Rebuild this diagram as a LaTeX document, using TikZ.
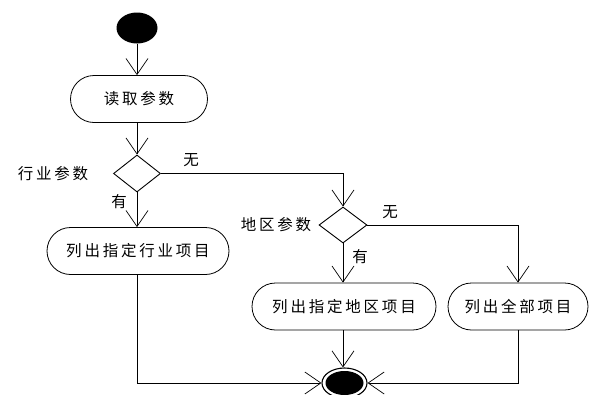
\documentclass[tikz,border=0pt]{standalone}
\usepackage{fontspec}
\newfontfamily\cjk[LetterSpace=18]{Noto Sans CJK SC}
\usetikzlibrary{arrows.meta,shapes.misc,shapes.geometric}
\begin{document}
\begin{tikzpicture}[x=1pt,y=-1pt,
  every node/.style={font=\cjk\fontsize{15.5}{18}\selectfont},
  act/.style={draw, line width=0.8pt, rounded rectangle, minimum height=47pt, inner sep=0pt},
  dec/.style={draw, line width=0.9pt, diamond, minimum width=47pt, minimum height=37pt, inner sep=0pt},
  lbl/.style={inner sep=0pt},
  arr/.style={draw, line width=0.7pt, -{Straight Barb[length=16pt,width=22pt,line width=0.7pt]}},
  ln/.style={draw, line width=0.7pt}]
\useasboundingbox (0,0) rectangle (595,394);
\fill[black] (137,28) ellipse [x radius=20.5, y radius=15.5];
\coordinate (start) at (137,43.5);
\node[act, minimum width=137pt] (read) at (139,99) {读取参数};
\node[dec] (d1) at (137,173.5) {};
\node[act, minimum width=182pt] (ind) at (138,251) {列出指定行业项目};
\node[dec, minimum width=48pt, minimum height=36pt] (d2) at (343,225) {};
\node[act, minimum width=184pt] (reg) at (344,306.5) {列出指定地区项目};
\node[act, minimum width=140pt] (all) at (518,306.5) {列出全部项目};
\node[ellipse, draw, line width=1.1pt, fill=white, minimum width=45pt, minimum height=30pt, inner sep=0pt] (end) at (344.5,383) {};
\fill[black] (344.5,383) ellipse [x radius=19, y radius=12];
\node[lbl] (l1) at (53,174) {行业参数};
\node[lbl] (l2) at (276,225) {地区参数};
\node[lbl] (y1) at (119,202) {有};
\node[lbl] (n1) at (191,160) {无};
\node[lbl] (y2) at (360,257) {有};
\node[lbl] (n2) at (390,212) {无};
\draw[arr] (start) -- (start |- read.north);
\draw[arr] (d1.north |- read.south) -- (d1.north);
\draw[arr] (d1.south) -- (d1.south |- ind.north);
\draw[arr] (d1.east) -- (d2.north |- d1.east) -- (d2.north);
\draw[arr] (d2.south) -- (d2.south |- reg.north);
\draw[arr] (d2.east) -- (all.north |- d2.east) -- (all.north);
\draw[arr] (d1.south |- ind.south) -- (d1.south |- end.west) -- (end.west);
\draw[arr] (d2.south |- reg.south) -- (d2.south |- end.north);
\draw[arr] (all.south) |- (end.east);
\end{tikzpicture}
\end{document}
